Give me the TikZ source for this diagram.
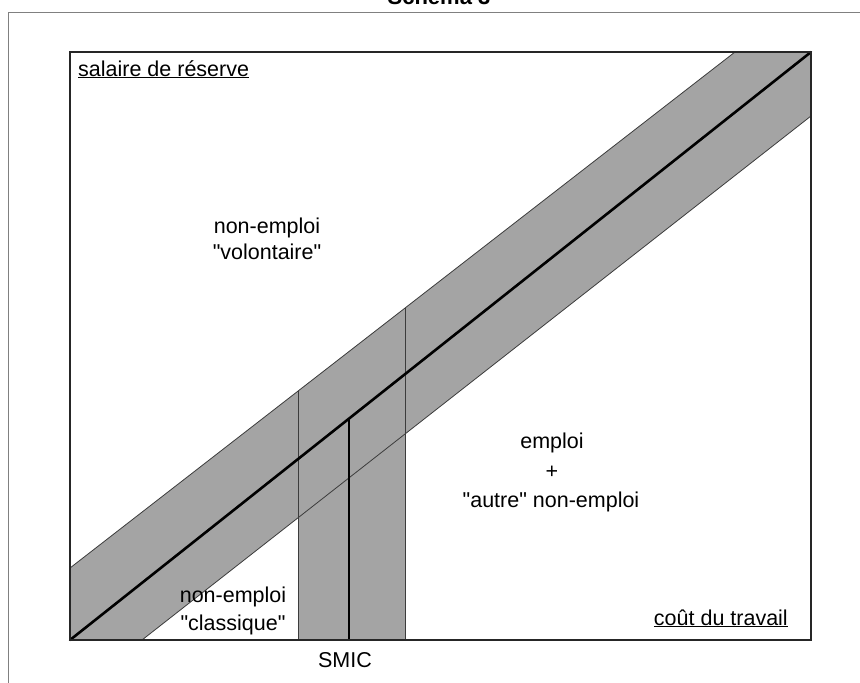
\documentclass[tikz,border=0pt]{standalone}
\usepackage{fontspec}
\setmainfont{Liberation Sans}[Ligatures=TeXOff]
\definecolor{bandgray}{RGB}{164,164,164}
\definecolor{edgegray}{RGB}{60,60,60}
\definecolor{framegray}{RGB}{128,128,128}
\tikzset{
  lbl/.style={inner sep=0pt, font=\fontsize{21.5}{26}\selectfont},
  titlelbl/.style={inner sep=0pt, font=\fontsize{22}{26}\selectfont\bfseries},
  edgeline/.style={draw=edgegray, line width=0.8pt},
  mainline/.style={draw=black, line width=2.6pt, line cap=round},
  boxline/.style={draw=black!85, line width=1.3pt},
  frameline/.style={draw=framegray, line width=1pt}
}
\begin{document}
\begin{tikzpicture}[x=1pt, y=-1pt]
\useasboundingbox (0,0) rectangle (860,683);
% outer frame
\draw[frameline] (8,683) -- (8,12) -- (860,12);
\node[titlelbl, anchor=base] (title) at (439,4) {Schéma 3};
% key coordinates
\coordinate (BL) at (70,640);
\coordinate (TR) at (811,52);
\coordinate (TL) at (70,52);
\coordinate (BR) at (811,640);
\coordinate (U1) at (70,568);
\coordinate (U2) at (735,52);
\coordinate (L1) at (142,640);
\coordinate (L2) at (811,116);
\coordinate (S1b) at (298,640);
\coordinate (S1t) at (298,391.1);
\coordinate (S2b) at (405,640);
\coordinate (S2t) at (405,308.1);
\coordinate (Mb) at (349,640);
\coordinate (Mt) at (349,418.6);
% band
\fill[bandgray] (U1) -- (U2) -- (TR) -- (L2) -- (L1) -- (BL) -- cycle;
% vertical strip
\fill[bandgray] (S1b) -- (S1t) -- (S2t) -- (S2b) -- cycle;
% edges
\draw[edgeline] (U1) -- (U2);
\draw[edgeline] (L1) -- (L2);
\draw[edgeline] (S1b) -- (S1t);
\draw[edgeline] (S2b) -- (S2t);
% main lines
\draw[mainline] (BL) -- (TR);
\draw[mainline, line cap=butt] (Mb) -- (Mt);
% box
\draw[boxline] (TL) rectangle (BR);
% labels
\node[lbl, anchor=base west] (ylab) at (78,76) {\underline{salaire de réserve}};
\node[lbl, anchor=base east] (xlab) at (788,625) {\underline{coût du travail}};
\node[lbl, anchor=base] (vol1) at (267,233) {non-emploi};
\node[lbl, anchor=base] (vol2) at (267,259) {"volontaire"};
\node[lbl, anchor=base] (emp1) at (552,448) {emploi};
\node[lbl, anchor=base] (emp2) at (552,478) {+};
\node[lbl, anchor=base] (emp3) at (551,507) {"autre" non-emploi};
\node[lbl, anchor=base] (cla1) at (233,602) {non-emploi};
\node[lbl, anchor=base] (cla2) at (233,630) {"classique"};
\node[lbl, anchor=base] (smic) at (345,667) {SMIC};
\end{tikzpicture}
\end{document}
